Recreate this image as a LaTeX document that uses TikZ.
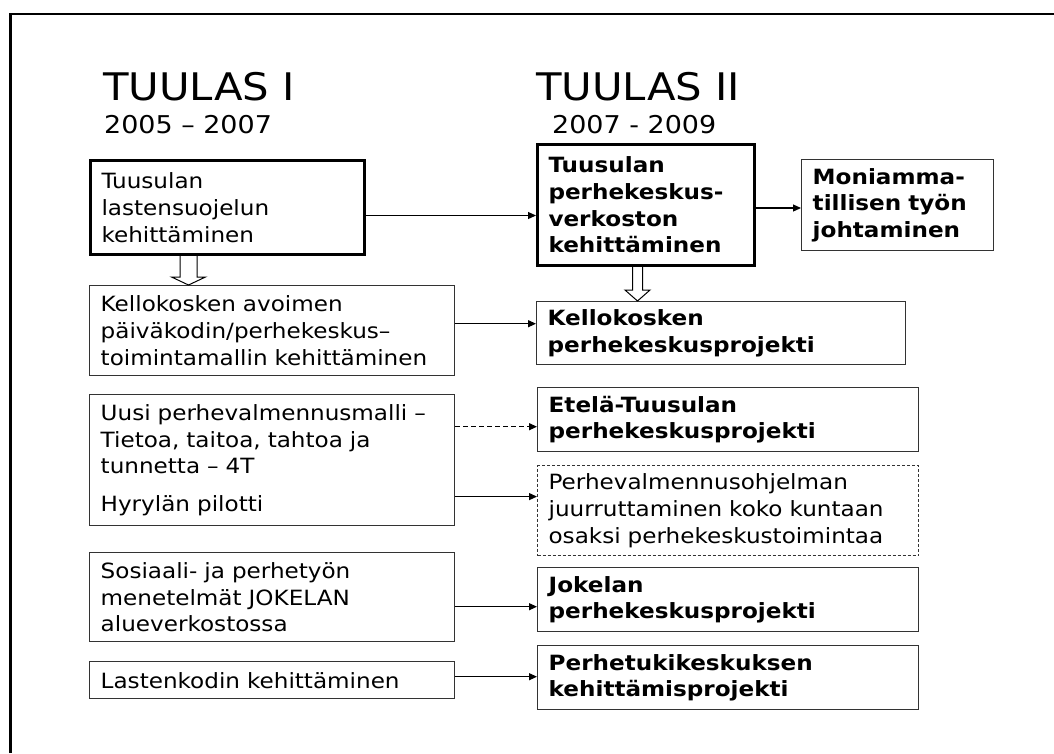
\documentclass[tikz,border=0pt]{standalone}
\usepackage{fontspec}
\setmainfont[FakeStretch=1.1]{DejaVu Sans}
\usetikzlibrary{arrows.meta,calc}
\begin{document}
\begin{tikzpicture}[x=1pt,y=-1pt,
  body/.style={font=\fontsize{21}{26.7}\selectfont},
  box/.style={draw=black!80, line width=1.4pt, anchor=north west, inner xsep=11pt, inner ysep=0pt, align=left, body},
  thickbox/.style={box, draw=black, line width=3pt},
  bold/.style={font=\fontsize{21}{26.7}\selectfont\bfseries},
  conn/.style={line width=1.2pt, -{Triangle[length=8pt,width=7pt]}},
  hollow/.style={draw=black, line width=1pt, fill=white},
  title/.style={anchor=base west, inner sep=0pt, font=\fontsize{38}{40}\selectfont},
  years/.style={anchor=base west, inner sep=0pt, font=\fontsize{24.5}{26}\selectfont}
]
\useasboundingbox (0,0) rectangle (1054,753);
\draw[line width=2.2pt] (10.5,753) -- (10.5,14) -- (1054,14);

\node[title] (t1) at (103,100) {TUULAS I};
\node[years] (y1) at (104,133) {2005 – 2007};
\node[title] (t2) at (536,100) {TUULAS II};
\node[years] (y2) at (552,133) {2007 - 2009};

% left column
\node[thickbox, minimum width=274, minimum height=94, text width=252] (A) at (89,159)
  {Tuusulan\\lastensuojelun\\kehittäminen};
\node[box, minimum width=365, minimum height=90, text width=343] (B) at (89,285)
  {Kellokosken avoimen\\päiväkodin/perhekeskus–\\toimintamallin kehittäminen};
\node[box, minimum width=365, minimum height=131, text width=343] (C) at (89,394)
  {Uusi perhevalmennusmalli –\\Tietoa, taitoa, tahtoa ja\\tunnetta – 4T\\[11pt]Hyrylän pilotti};
\node[box, minimum width=365, minimum height=89, text width=343] (D) at (89,552)
  {Sosiaali- ja perhetyön\\menetelmät JOKELAN\\alueverkostossa};
\node[box, minimum width=365, minimum height=37, text width=343] (E) at (89,661)
  {Lastenkodin kehittäminen};

% right column
\node[thickbox, bold, minimum width=217, minimum height=121, text width=195] (F) at (536,143)
  {Tuusulan\\perhekeskus-\\verkoston\\kehittäminen};
\node[box, bold, minimum width=192, minimum height=91, text width=170] (G) at (801,159)
  {Moniamma-\\tillisen työn\\johtaminen};
\node[box, bold, minimum width=369, minimum height=63, text width=347] (H) at (536,301)
  {Kellokosken\\perhekeskusprojekti};
\node[box, bold, minimum width=381, minimum height=64, text width=359] (I) at (537,387)
  {Etelä-Tuusulan\\perhekeskusprojekti};
\node[box, dash pattern=on 3pt off 2pt, line width=1.2pt, minimum width=381, minimum height=90, text width=359] (J) at (537,465)
  {Perhevalmennusohjelman\\juurruttaminen koko kuntaan\\osaksi perhekeskustoimintaa};
\node[box, bold, minimum width=381, minimum height=64, text width=359] (K) at (537,567)
  {Jokelan\\perhekeskusprojekti};
\node[box, bold, minimum width=381, minimum height=64, text width=359] (L) at (537,645)
  {Perhetukikeskuksen\\kehittämisprojekti};

% connectors
\draw[conn] ([yshift=-8pt]A.east) -- ([yshift=-8pt]A.east -| F.west);
\draw[conn] ([yshift=-3pt]F.east) -- ([yshift=-3pt]F.east -| G.west);
\draw[conn] ([yshift=7pt]B.east) -- ([yshift=7pt]B.east -| H.west);
\draw[conn, dash pattern=on 5pt off 3pt] ([yshift=-7pt]I.west -| C.east) -- ([yshift=-7pt]I.west);
\draw[conn] ([yshift=14pt]J.west -| C.east) -- ([yshift=14pt]J.west);
\draw[conn] ([yshift=-7pt]K.west -| D.east) -- ([yshift=-7pt]K.west);
\draw[conn] ([yshift=3.5pt]E.east) -- ([yshift=3.5pt]E.east -| L.west);

% hollow block arrows
\coordinate (a1) at ([xshift=99.5pt]A.south west);
\coordinate (a1t) at (a1 |- B.north);
\draw[hollow] ($(a1)+(-8.5,0)$) -- ($(a1t)+(-8.5,-8)$) -- ($(a1t)+(-17,-8)$) -- (a1t)
  -- ($(a1t)+(17,-8)$) -- ($(a1t)+(8.5,-8)$) -- ($(a1)+(8.5,0)$);
\coordinate (a2) at ([xshift=101.5pt]F.south west);
\coordinate (a2t) at (a2 |- H.north);
\draw[hollow] ($(a2)+(-5,0)$) -- ($(a2t)+(-5,-11)$) -- ($(a2t)+(-12.5,-11)$) -- (a2t)
  -- ($(a2t)+(12.5,-11)$) -- ($(a2t)+(5,-11)$) -- ($(a2)+(5,0)$);
\end{tikzpicture}
\end{document}
